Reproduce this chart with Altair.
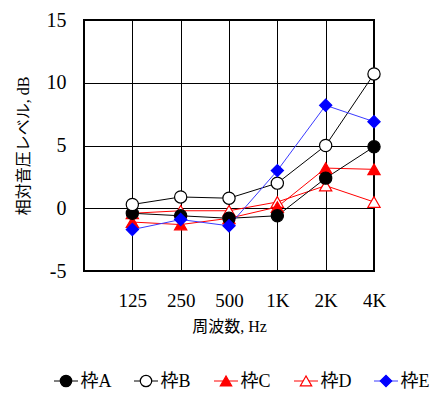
import altair as alt
import pandas as pd

freqs = ["125", "250", "500", "1K", "2K", "4K"]
series = ["枠A", "枠B", "枠C", "枠D", "枠E"]
vals_A = [-0.4, -0.6, -0.8, -0.6, 2.4, 4.9]
vals_B = [0.3, 0.9, 0.8, 2.0, 5.0, 10.7]
vals_C = [-1.1, -1.3, -0.8, 0.1, 3.2, 3.1]
vals_D = [-0.4, -0.2, -0.2, 0.5, 1.8, 0.5]
vals_E = [-1.7, -0.9, -1.4, 3.0, 8.2, 6.9]

line_colors = ["black", "black", "red", "red", "#3a3aff"]
stroke_colors = ["black", "black", "red", "red", "blue"]
fill_colors = ["black", "white", "red", "white", "blue"]
shapes = ["circle", "circle", "triangle-up", "triangle-up", "diamond"]
draw_order = ["枠D", "枠C", "枠A", "枠B", "枠E"]

rows = []
for s, vals in zip(series, [vals_A, vals_B, vals_C, vals_D, vals_E]):
    for i, (f, v) in enumerate(zip(freqs, vals)):
        rows.append({"series": s, "freq": f, "idx": i + 1, "value": v,
                     "order": draw_order.index(s)})
df = pd.DataFrame(rows).sort_values(["order", "idx"]).reset_index(drop=True)

FONT = "Liberation Serif, Noto Sans CJK JP"
label_expr = "[''," + ",".join("'%s'" % f for f in freqs) + "][datum.value]"

color_scale = alt.Scale(domain=series, range=line_colors)
stroke_scale = alt.Scale(domain=series, range=stroke_colors)
fill_scale = alt.Scale(domain=series, range=fill_colors)
shape_scale = alt.Scale(domain=series, range=shapes)

x_enc = alt.X("idx:Q", scale=alt.Scale(domain=[0, 6], nice=False, zero=False),
              axis=alt.Axis(values=[1, 2, 3, 4, 5, 6], labelExpr=label_expr,
                            title="周波数, Hz", grid=True, gridColor="black",
                            gridOpacity=1, gridWidth=1, ticks=False, domain=False,
                            labelFlush=False, labelBound=False,
                            labelFont=FONT, labelFontSize=19, labelColor="black",
                            labelPadding=20, titleFont=FONT, titleFontSize=16,
                            titleFontWeight="normal", titleColor="black",
                            titlePadding=8))
y_enc = alt.Y("value:Q", scale=alt.Scale(domain=[-5, 15], nice=False),
              axis=alt.Axis(values=[-5, 0, 5, 10, 15], labelExpr="'' + datum.value",
                            title="相対音圧レベル, dB", labelFlush=False,
                            grid=True, gridColor="black", gridOpacity=1, gridWidth=1,
                            ticks=False, domain=False, labelFont=FONT,
                            labelFontSize=20, labelColor="black", labelPadding=18,
                            titleFont=FONT, titleFontSize=16,
                            titleFontWeight="normal", titleColor="black",
                            titlePadding=15))

lines = alt.Chart(df).mark_line(strokeWidth=1).encode(
    x=x_enc, y=y_enc,
    color=alt.Color("series:N", scale=color_scale, legend=None),
    detail="series:N",
    order="idx:Q",
)
points = alt.Chart(df).mark_point(filled=True, size=150, strokeWidth=1.2, opacity=1).encode(
    x="idx:Q", y="value:Q",
    fill=alt.Fill("series:N", scale=fill_scale, legend=None),
    stroke=alt.Stroke("series:N", scale=stroke_scale, legend=None),
    shape=alt.Shape("series:N", scale=shape_scale, legend=None),
)
main = alt.layer(lines, points).properties(
    width=290, height=251,
    view=alt.ViewBackground(stroke="black", strokeWidth=2))

leg = pd.DataFrame({"series": series, "pos": list(range(len(series)))})
leg["x1"] = leg["pos"] - 0.15
leg["x2"] = leg["pos"] + 0.15
leg["tx"] = leg["pos"] + 0.18
lx = alt.Scale(domain=[0.225, 4.6], nice=False, zero=False)
leg_base = alt.Chart(leg)
leg_rule = leg_base.mark_rule(strokeWidth=1).encode(
    x=alt.X("x1:Q", scale=lx, axis=None), x2="x2:Q", y=alt.value(10),
    color=alt.Color("series:N", scale=color_scale, legend=None))
leg_pt = leg_base.mark_point(filled=True, size=130, strokeWidth=1.2, opacity=1).encode(
    x=alt.X("pos:Q", scale=lx, axis=None), y=alt.value(10),
    fill=alt.Fill("series:N", scale=fill_scale, legend=None),
    stroke=alt.Stroke("series:N", scale=stroke_scale, legend=None),
    shape=alt.Shape("series:N", scale=shape_scale, legend=None))
leg_txt = leg_base.mark_text(align="left", baseline="middle", font=FONT,
                             fontSize=18, color="black").encode(
    x=alt.X("tx:Q", scale=lx, axis=None), y=alt.value(11), text="series:N")
legend = alt.layer(leg_rule, leg_pt, leg_txt).properties(
    width=350, height=20, view=alt.ViewBackground(stroke=None))

chart = alt.vconcat(main, legend, spacing=36).properties(
    padding={"top": 9, "left": 14, "right": 2, "bottom": 2})

chart.save("out.html", embed_options={"renderer": "svg", "actions": False})
